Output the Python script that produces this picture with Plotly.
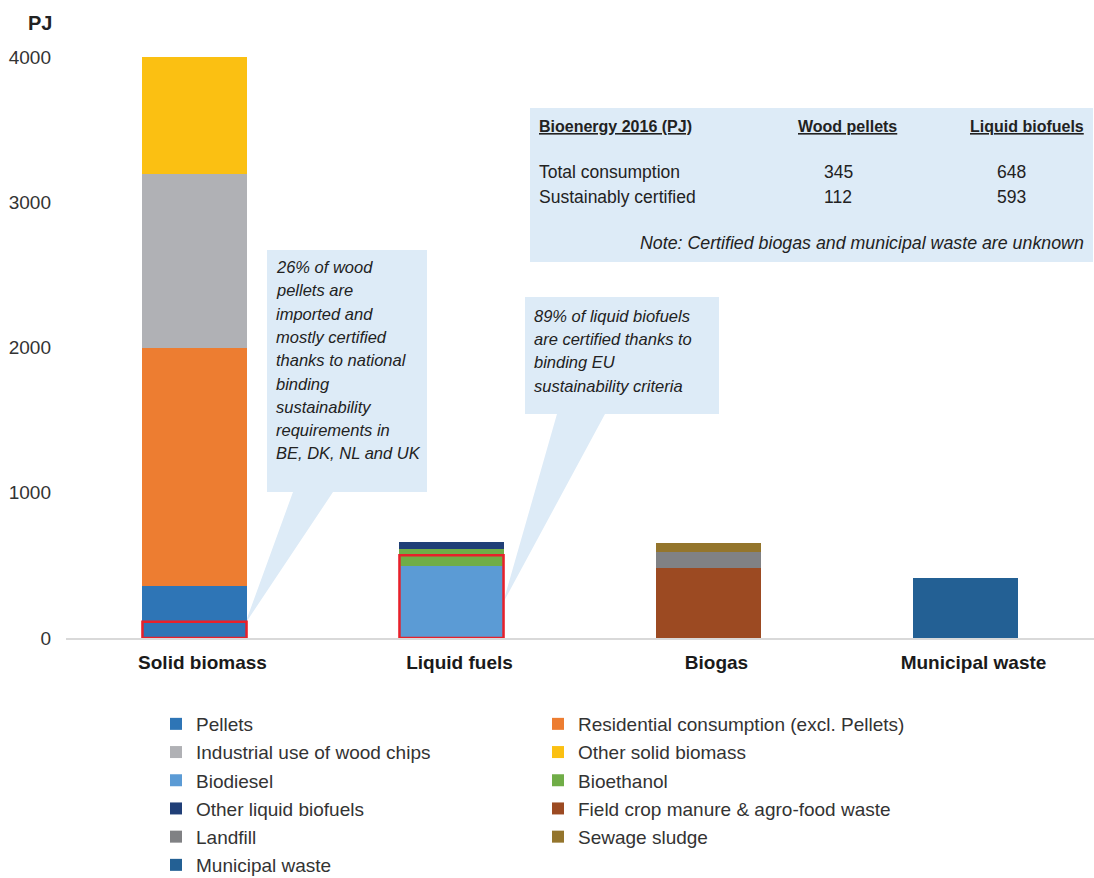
import plotly.graph_objects as go

# ---------------- data ----------------
categories = ["Solid biomass", "Liquid fuels", "Biogas", "Municipal waste"]

pellets      = [358, None, None, None]
residential  = [1640, None, None, None]
industrial   = [1198, None, None, None]
other_solid  = [806, None, None, None]
biodiesel    = [None, 496, None, None]
bioethanol   = [None, 117, None, None]
other_liquid = [None, 48, None, None]
field_crop   = [None, None, 482, None]
landfill     = [None, None, 110, None]
sewage       = [None, None, 62, None]
municipal    = [None, None, None, 413]

series = [
    ("Pellets", pellets, "#2E75B6"),
    ("Residential consumption (excl. Pellets)", residential, "#ED7D31"),
    ("Industrial use of wood chips", industrial, "#B0B1B5"),
    ("Other solid biomass", other_solid, "#FBC012"),
    ("Biodiesel", biodiesel, "#5B9BD5"),
    ("Bioethanol", bioethanol, "#70AD47"),
    ("Other liquid biofuels", other_liquid, "#203F77"),
    ("Field crop manure & agro-food waste", field_crop, "#9C4A22"),
    ("Landfill", landfill, "#808184"),
    ("Sewage sludge", sewage, "#94752C"),
    ("Municipal waste", municipal, "#236094"),
]

# certified portions highlighted with red boxes (Solid biomass, Liquid fuels)
certified_box = [112, 570]

y_ticks = [0, 1000, 2000, 3000, 4000]

table_header = ["Bioenergy 2016 (PJ)", "Wood pellets", "Liquid biofuels"]
table_rows = [
    ("Total consumption", "345", "648"),
    ("Sustainably certified", "112", "593"),
]
table_note = "Note: Certified biogas and municipal waste are unknown"

callout_solid = ["26% of wood", "pellets are", "imported and", "mostly certified",
                 "thanks to national", "binding", "sustainability",
                 "requirements in", "BE, DK, NL and UK"]
callout_liquid = ["89% of liquid biofuels", "are certified thanks to",
                  "binding EU", "sustainability criteria"]

# ---------------- layout helpers ----------------
W, H = 1094, 878
L, R, T, B = 66, 0, 28, 240
PW, PH = W - L - R, H - T - B
FONT = "Liberation Sans, Arial, sans-serif"
BOX = "#DDEBF7"


def px(x):
    return (x - L) / PW


def py(y):
    return (H - B - y) / PH


fig = go.Figure()
for k, (name, vals, col) in enumerate(series):
    fig.add_trace(go.Bar(x=categories, y=vals, name=name, marker_color=col,
                         marker_line_width=0, legendgroup=f"g{k}",
                         legend="legend" if k % 2 == 0 else "legend2"))

shapes = []


def poly(points):
    path = "M " + " L ".join(f"{px(a):.5f},{py(b):.5f}" for a, b in points) + " Z"
    return dict(type="path", path=path, xref="paper", yref="paper",
                fillcolor=BOX, line_width=0, layer="below")


# callout bubbles
shapes.append(poly([(267, 250), (427, 250), (427, 492), (333, 492), (245, 624),
                    (293, 492), (267, 492)]))
shapes.append(poly([(525, 297), (719, 297), (719, 414), (605, 414), (503, 603),
                    (557, 414), (525, 414)]))
# table box
shapes.append(dict(type="rect", xref="paper", yref="paper", x0=px(530), x1=px(1093),
                   y0=py(262), y1=py(108), fillcolor=BOX, line_width=0, layer="below"))
# red certification boxes
for i, v in enumerate(certified_box):
    shapes.append(dict(type="rect", xref="x", yref="y", x0=i - 0.2025, x1=i + 0.2025,
                       y0=0, y1=v, line=dict(color="#E8202A", width=2.5),
                       fillcolor="rgba(0,0,0,0)", layer="above"))

ann = []


def text(x, y, s, size=16, anchor="left", italic=False, bold=False, color="#222222"):
    if bold:
        s = f"<b>{s}</b>"
    if italic:
        s = f"<i>{s}</i>"
    ann.append(dict(x=px(x), y=py(y), xref="paper", yref="paper", text=s,
                    showarrow=False, xanchor=anchor, yanchor="middle",
                    font=dict(family=FONT, size=size, color=color)))


# axis unit
text(40, 23, "PJ", size=20, anchor="center", bold=True)

# table
text(537, 127, f"<u>{table_header[0]}</u>", size=16, bold=True)
text(847, 127, f"<u>{table_header[1]}</u>", size=16, bold=True, anchor="center")
text(1086, 127, f"<u>{table_header[2]}</u>", size=16, bold=True, anchor="right")
for k, (lab, a, b) in enumerate(table_rows):
    yy = 172 + k * 24.5
    text(537, yy, lab, size=17.5)
    text(838, yy, a, size=17.5, anchor="center")
    text(1011, yy, b, size=17.5, anchor="center")
text(1086, 243, table_note, size=17.8, anchor="right", italic=True)

# callouts
for k, line in enumerate(callout_solid):
    text(274, 267 + k * 23.3, line, size=16.5, italic=True)
for k, line in enumerate(callout_liquid):
    text(532, 316 + k * 23.2, line, size=16.5, italic=True)

leg_common = dict(orientation="v", yanchor="top", xanchor="left", tracegroupgap=0.5,
                  font=dict(family=FONT, size=19, color="#333333"),
                  bgcolor="rgba(0,0,0,0)", itemclick=False, traceorder="grouped")

fig.update_layout(
    width=W, height=H, autosize=False,
    margin=dict(l=L, r=R, t=T, b=B, pad=0, autoexpand=False),
    barmode="stack", bargap=0.595,
    plot_bgcolor="white", paper_bgcolor="white",
    font=dict(family=FONT, size=18, color="#333333"),
    shapes=shapes, annotations=ann,
    showlegend=True,
    legend=dict(x=px(156), y=py(705), **leg_common),
    legend2=dict(x=px(538), y=py(705), **leg_common),
    xaxis=dict(range=[-0.5, 3.5], showline=True, linecolor="#D9D9D9", linewidth=1.5,
               ticks="", showgrid=False, zeroline=False, ticklabelstandoff=6,
               ticklabelshift=8,
               tickfont=dict(family=FONT, size=19, color="#1a1a1a", weight="bold")),
    yaxis=dict(range=[0, 4200], tickvals=y_ticks, showgrid=False, zeroline=False,
               showline=False, ticks="", ticklabelstandoff=14,
               tickfont=dict(family=FONT, size=19, color="#333333")),
)

fig.write_html("out.html")
